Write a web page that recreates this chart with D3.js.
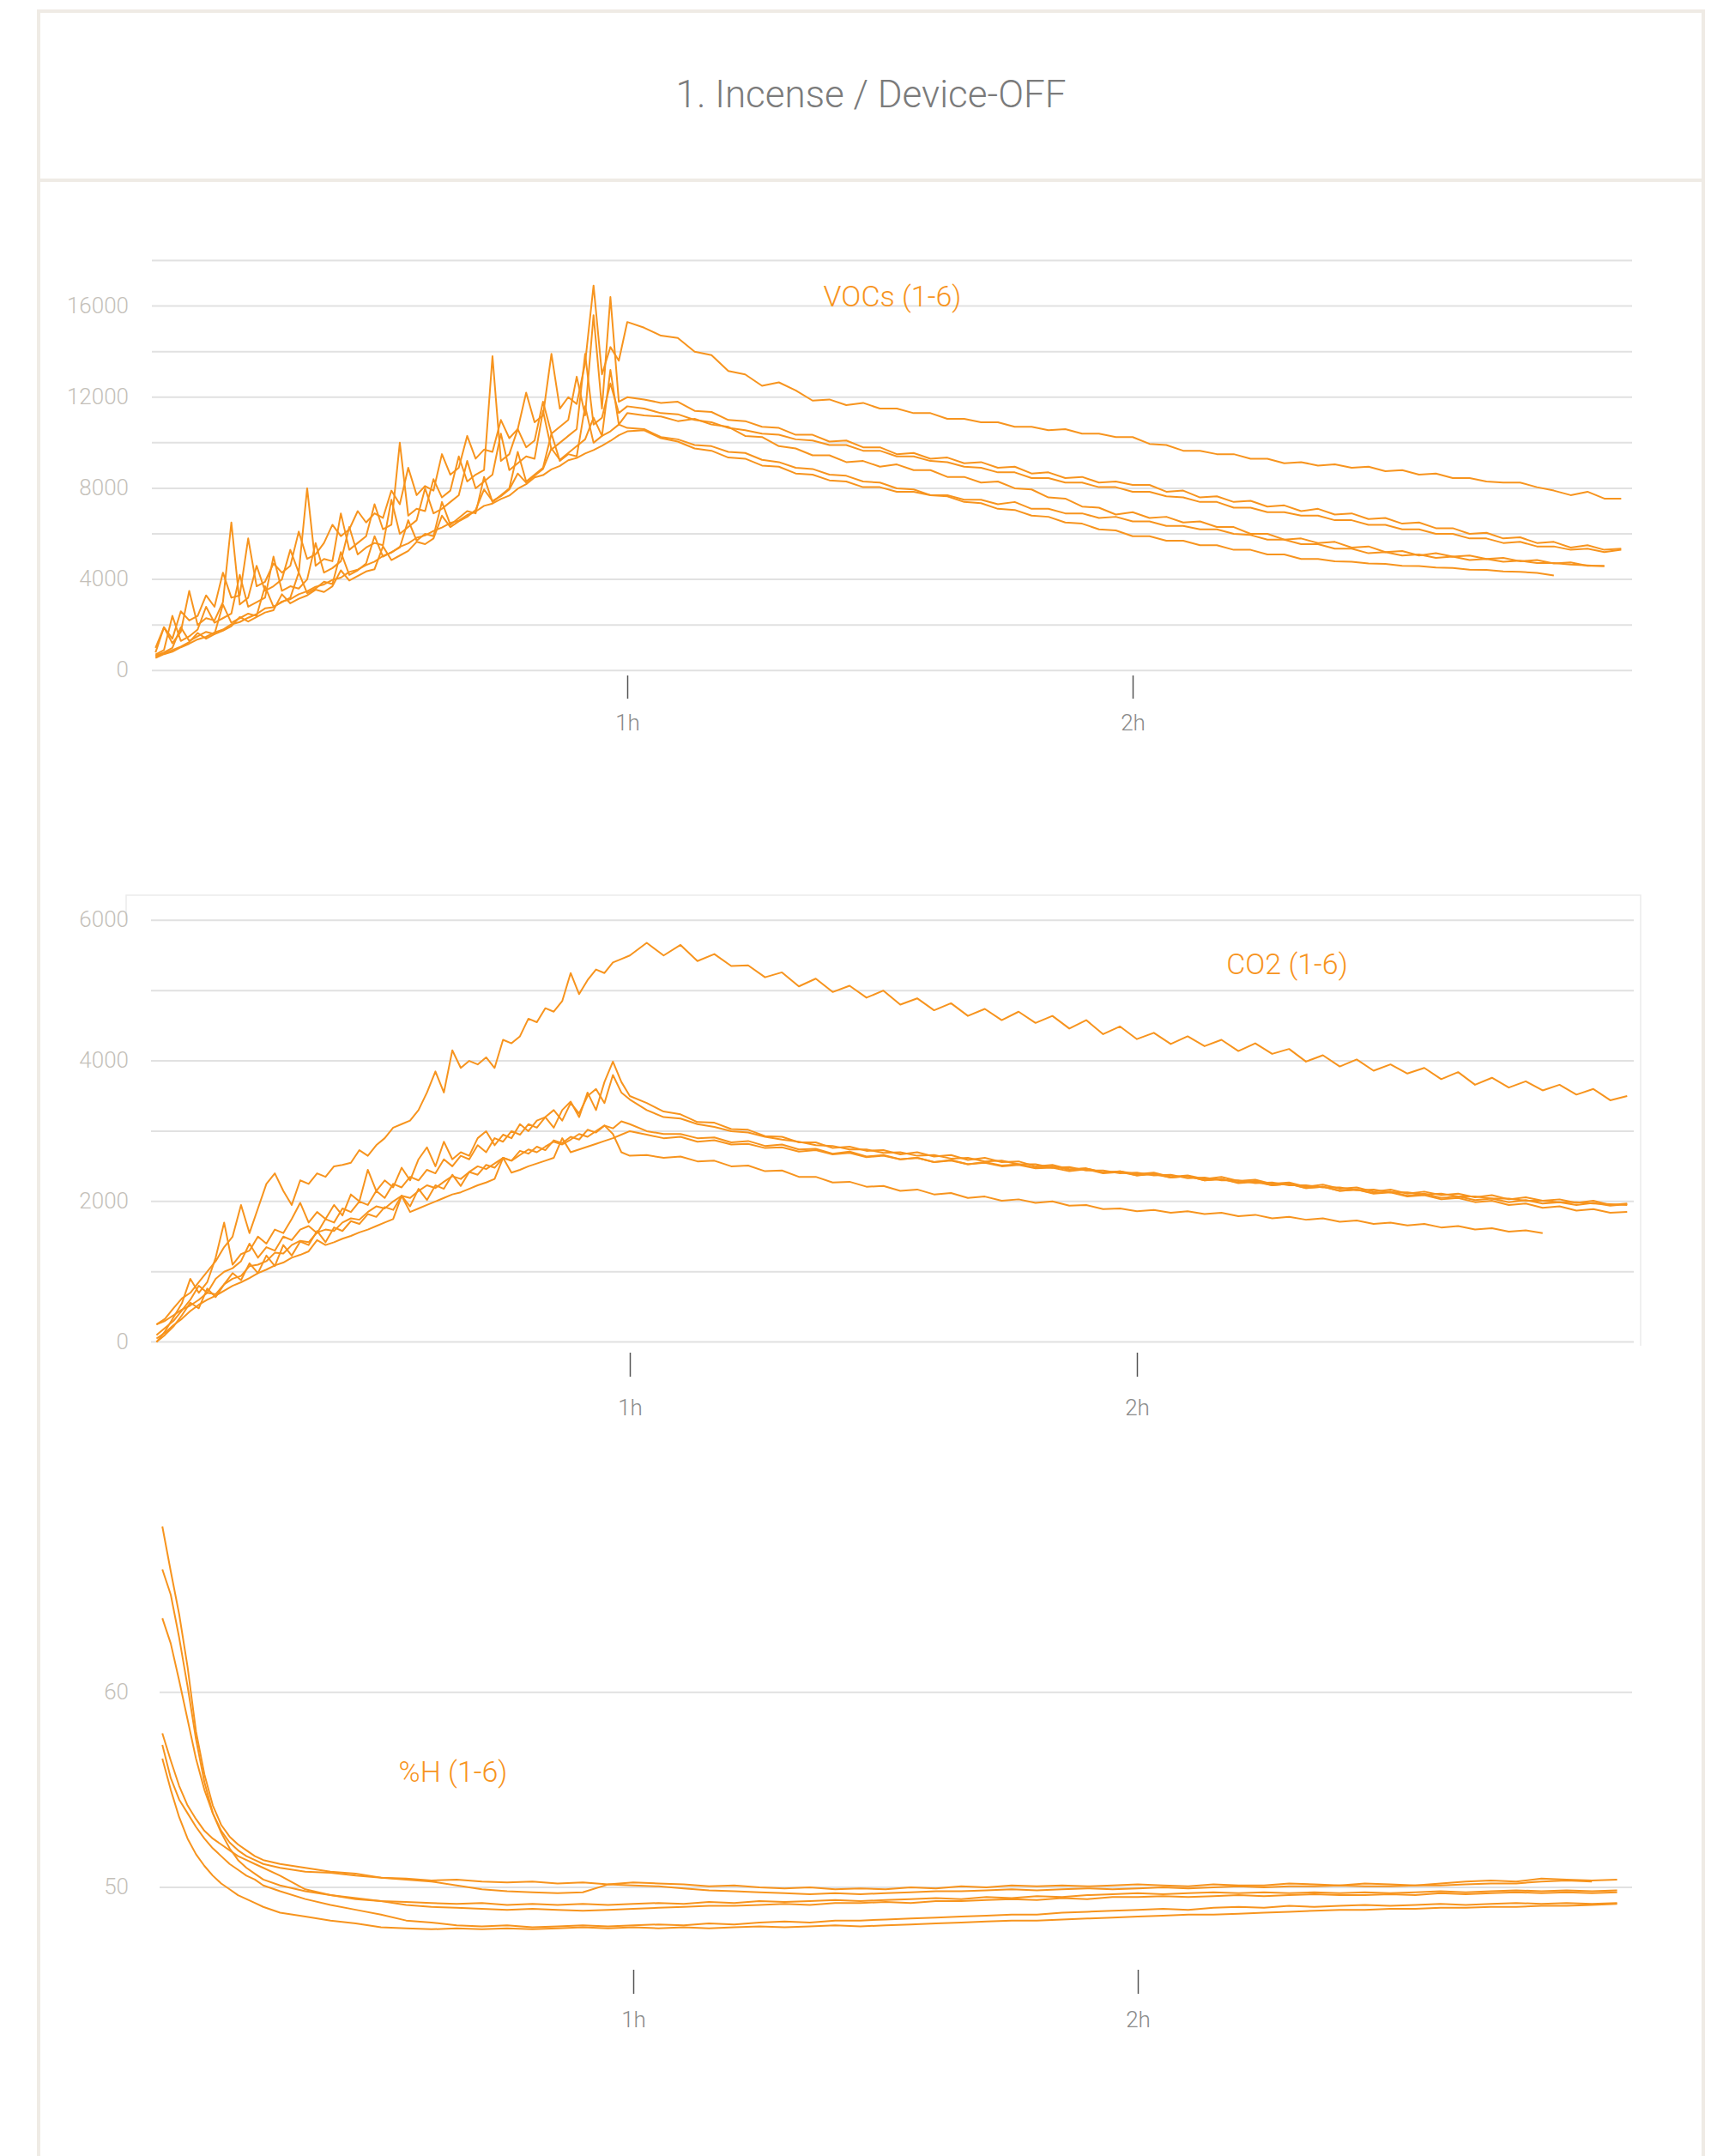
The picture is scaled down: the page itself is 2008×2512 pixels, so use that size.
<!DOCTYPE html>
<html><head><meta charset="utf-8">
<script src="https://cdn.jsdelivr.net/npm/d3@7"></script>
<style>
html,body{margin:0;padding:0;background:#fff;}
svg{display:block;}
text{font-family:Roboto,"Helvetica Neue",Arial,sans-serif;}
</style></head><body>
<svg id="chart" width="2008" height="2512"></svg>
<script>
const title = "1. Incense / Device-OFF";
const hourTicks = [60, 120];
const hourLabels = ["1h", "2h"];

// time grid in minutes (VOCs and CO2)
const timeGrid = [4,5,6,7,8,9,10,11,12,13,14,15,16,17,18,19,20,21,22,23,24,25,26,27,28,29,30,31,32,33,34,35,36,37,38,39,40,41,42,43,44,45,46,47,48,49,50,51,52,53,54,55,56,57,58,59,60,
62,64,66,68,70,72,74,76,78,80,82,84,86,88,90,92,94,96,98,100,102,104,106,108,110,112,114,116,118,120,122,124,126,128,130,132,134,136,138,140,142,144,146,148,150,152,154,156,158,160,162,164,166,168,170,172,174,176,178];

// ---------- VOCs ----------
const vocLabel = "VOCs (1-6)";
const vocTickValues = [0, 4000, 8000, 12000, 16000];
const vocGridValues = [0, 2000, 4000, 6000, 8000, 10000, 12000, 14000, 16000, 18000];
const vocA = [1000,1900,1400,2600,2200,2400,3300,2800,4300,3200,3300,5800,3700,3900,4700,4300,4600,6100,4900,5100,5600,6400,5900,6200,7000,6500,6900,6700,7900,7300,8900,7700,8100,7900,9500,8600,8900,10300,9300,9700,9600,11000,10200,10600,12200,10900,11200,13900,11500,12000,11700,13500,16900,13000,14200,13600,15300,
15050,14700,14600,14000,13850,13150,13000,12500,12650,12300,11850,11900,11650,11750,11500,11500,11300,11300,11050,11050,10900,10900,10700,10700,10550,10600,10400,10400,10250,10250,9950,9900,9650,9650,9500,9500,9300,9300,9100,9150,9000,9050,8900,8950,8750,8800,8600,8650,8450,8450,8300,8250,8250,8050,7900,7700,7850,7550,7550];
const vocB = [800,1900,1200,1700,3500,2000,2300,2200,3000,6500,2900,3200,4600,3500,3700,4000,5300,4300,8000,4600,4900,4800,6900,5300,5600,5900,7300,6200,6400,10000,6800,7100,7000,8400,7600,7900,9400,8300,8600,8800,13800,9200,9500,10600,9800,10100,11800,10400,10700,11000,12900,11200,15600,11500,16400,11800,12000,
11900,11750,11800,11400,11350,11000,10950,10700,10650,10350,10350,10050,10100,9800,9800,9500,9550,9300,9350,9100,9150,8900,8950,8650,8700,8450,8500,8250,8300,8150,8150,7850,7900,7600,7650,7400,7450,7200,7250,7000,7100,6850,6900,6650,6700,6450,6500,6250,6250,6000,6050,5800,5850,5600,5650,5400,5500,5300,5350];
const vocC = [700,900,2400,1300,1500,1800,2800,2100,2300,2500,4200,2800,3000,3200,5000,3500,3700,3600,4000,5600,4300,4500,4800,6300,5100,5400,5600,5500,7500,6000,6300,6600,8000,6900,7100,7400,7700,9200,8000,8300,8600,10400,8800,9100,9400,9300,11400,9700,10000,10300,10600,13900,10800,11100,12600,11300,11600,
11500,11300,11250,11000,10900,10650,10550,10400,10350,10150,10100,9900,9900,9650,9650,9400,9400,9200,9150,8950,8900,8700,8700,8450,8450,8250,8250,8050,8050,7850,7850,7650,7600,7400,7400,7150,7150,6950,6950,6800,6800,6600,6600,6400,6400,6200,6200,6000,6000,5800,5800,5600,5650,5450,5450,5300,5350,5200,5300];
const vocD = [650,800,1000,1900,1300,1500,1700,1600,2900,2100,2300,2500,2400,3700,2800,3000,3200,4300,3400,3600,3900,3800,5200,4200,4400,4700,5900,5000,5200,5400,6600,5700,6000,5900,7400,6400,6700,7000,6900,8500,7400,7700,8000,9600,8300,8600,8900,10400,9200,9500,9400,11600,10000,10300,13200,10800,11300,
11200,11150,10950,11050,10800,10700,10300,10250,9850,9750,9450,9450,9150,9200,8950,9050,8800,8800,8500,8500,8250,8300,8000,7950,7600,7550,7200,7150,6850,6950,6700,6750,6500,6550,6300,6300,6000,6000,5750,5800,5600,5650,5400,5450,5200,5250,5050,5150,5000,5050,4900,4950,4800,4850,4700,4750,4600,4600];
const vocE = [600,750,900,1050,1250,1650,1400,1600,1750,1950,2350,2150,2350,2550,2650,3350,2950,3150,3300,3550,3450,3700,4400,3950,4150,4350,4450,5450,4850,5050,5250,5650,5550,5800,6800,6300,6550,6750,7050,7950,7450,7650,7950,8650,8250,8550,8850,9750,9250,9550,9850,10150,11100,10300,10500,10800,10650,
10600,10250,10150,9900,9850,9600,9550,9250,9150,8900,8850,8600,8550,8300,8250,8000,7950,7700,7700,7500,7500,7300,7400,7100,7100,6900,6900,6700,6750,6550,6550,6350,6350,6200,6200,6000,5950,5750,5750,5550,5550,5350,5350,5150,5200,5050,5100,4950,5000,4850,4900,4780,4820,4720,4720,4650,4620,4580];
const vocF = [550,720,830,1020,1180,1370,1480,1670,1800,2030,2130,2320,2480,2730,2780,3030,3130,3350,3480,3680,3780,3980,4080,4330,4430,4630,4780,5030,5180,5430,5580,5830,5930,6130,6280,6480,6580,6830,6980,7230,7330,7530,7680,7980,8180,8480,8580,8830,8980,9230,9330,9530,9680,9870,10080,10330,10500,
10550,10200,10050,9750,9650,9350,9300,9000,8950,8650,8600,8350,8300,8050,8050,7850,7850,7700,7650,7400,7350,7100,7050,6800,6750,6500,6450,6200,6150,5900,5900,5700,5700,5500,5500,5300,5300,5100,5100,4900,4900,4800,4780,4700,4680,4600,4590,4520,4500,4430,4420,4350,4330,4290,4170];

// ---------- CO2 ----------
const co2Label = "CO2 (1-6)";
const co2TickValues = [0, 2000, 4000, 6000];
const co2GridValues = [0, 1000, 2000, 3000, 4000, 5000, 6000];
const co2A = [250,330,480,620,700,850,1000,1150,1350,1500,1950,1550,1900,2250,2400,2150,1950,2300,2250,2400,2350,2500,2520,2550,2730,2650,2800,2900,3050,3100,3150,3300,3550,3850,3550,4150,3900,4000,3950,4050,3900,4300,4250,4350,4600,4550,4750,4700,4850,5250,4950,5150,5300,5250,5400,5450,5500,5680,
5500,5650,5420,5520,5350,5360,5190,5260,5060,5170,4980,5070,4900,5000,4800,4890,4720,4820,4640,4740,4580,4700,4540,4640,4460,4580,4380,4490,4310,4400,4240,4350,4210,4300,4140,4250,4100,4170,3990,4080,3920,4020,3860,3950,3820,3900,3740,3840,3660,3760,3620,3710,3580,3660,3520,3600,3440,3500,3380];
const co2B = [0,150,350,550,900,700,850,1200,1700,1100,1250,1300,1500,1400,1600,1550,1750,1980,1700,1850,1750,1950,1800,2100,2000,2450,2150,2300,2200,2480,2300,2600,2770,2500,2850,2600,2700,2650,2900,3000,2800,2950,2900,3100,3000,3150,3200,3050,3300,3420,3200,3550,3300,3700,3990,3700,3500,
3400,3280,3240,3130,3120,3030,3020,2930,2920,2840,2840,2760,2780,2720,2730,2670,2700,2640,2660,2590,2620,2560,2570,2500,2520,2460,2470,2410,2430,2390,2410,2350,2370,2320,2350,2290,2310,2250,2270,2210,2240,2180,2200,2140,2170,2110,2140,2090,2110,2060,2090,2030,2060,2010,2030,1980,2010,1950,1970];
const co2C = [100,200,300,450,600,800,700,900,1000,1050,1150,1400,1200,1350,1300,1500,1450,1600,1650,1550,1750,1700,1900,1850,2000,1950,2150,2050,2250,2200,2350,2300,2450,2400,2600,2500,2650,2600,2800,2700,2900,2850,3000,2950,3100,3050,3200,3300,3150,3400,3250,3500,3600,3400,3800,3550,3450,
3300,3200,3180,3100,3060,3000,2980,2920,2880,2850,2800,2790,2740,2740,2690,2700,2650,2660,2610,2620,2570,2580,2530,2530,2480,2490,2440,2440,2400,2410,2370,2380,2330,2340,2300,2300,2260,2270,2230,2230,2200,2200,2160,2170,2130,2130,2100,2110,2070,2070,2040,2040,2010,2010,1990,1990,1970,1960,1950];
const co2D = [250,300,380,460,520,600,700,680,820,900,940,1080,1100,1150,1270,1260,1380,1440,1420,1560,1600,1580,1700,1760,1740,1850,1930,1900,2000,2080,2050,2150,2230,2190,2280,2360,2320,2420,2500,2460,2540,2620,2580,2660,2740,2700,2780,2850,2810,2880,2960,2920,3000,3080,3040,3140,3100,
3000,2960,2960,2900,2910,2840,2860,2790,2810,2740,2750,2680,2710,2640,2660,2600,2620,2560,2590,2530,2560,2510,2530,2480,2500,2450,2470,2410,2430,2370,2400,2340,2360,2300,2320,2260,2280,2230,2250,2190,2210,2150,2170,2110,2130,2070,2090,2030,2050,1990,2010,1950,1970,1910,1930,1870,1890,1840,1850];
const co2E = [50,130,240,330,440,530,600,660,730,800,850,910,980,1030,1090,1130,1200,1240,1290,1450,1380,1420,1470,1510,1560,1600,1650,1700,1750,2080,1850,1900,1950,2000,2050,2100,2130,2180,2230,2270,2320,2620,2410,2450,2500,2540,2580,2620,2900,2700,2740,2780,2820,2860,2900,2950,3000,
2950,2900,2920,2850,2870,2810,2820,2760,2770,2710,2730,2670,2690,2630,2650,2600,2620,2560,2580,2530,2550,2500,2520,2470,2480,2430,2460,2400,2420,2370,2390,2340,2360,2300,2320,2270,2290,2230,2250,2190,2210,2150,2170,2120,2140,2080,2110,2050,2070,2020,2040,1990,2020,1970,1990,1950,1980,1940,1960];
const co2F = [0,100,220,380,560,480,760,640,820,980,880,1120,980,1230,1080,1380,1230,1430,1380,1580,1420,1630,1580,1720,1680,1820,1780,1920,1880,2080,1930,2180,2020,2230,2180,2380,2220,2420,2380,2520,2480,2620,2580,2720,2680,2780,2730,2870,2830,2920,2880,3020,2980,3080,2960,2700,2650,
2660,2620,2640,2570,2580,2500,2510,2430,2440,2350,2350,2270,2280,2210,2220,2150,2170,2100,2120,2050,2070,2010,2030,1980,2000,1940,1950,1890,1900,1860,1880,1840,1860,1820,1840,1790,1810,1760,1780,1740,1760,1710,1730,1680,1700,1660,1680,1630,1650,1600,1620,1570,1590,1550];

// ---------- Humidity ----------
const humLabel = "%H (1-6)";
const humTickValues = [50, 60];
const humGridValues = [50, 60];
const humTime = [4,5,6,7,8,9,10,11,12,13,14,15,16,18,21,24,27,30,33,36,39,42,45,48,51,54,57,60,63,66,69,72,75,78,81,84,87,90,93,96,99,102,105,108,111,114,117,120,123,126,129,132,135,138,141,144,147,150,153,156,159,162,165,168,171,174,177];
const hum1 = [68.5,66.2,64.0,61.3,58.0,55.8,54.2,53.2,52.6,52.2,51.9,51.6,51.4,
51.2,51.0,50.8,50.7,50.5,50.45,50.35,50.4,50.3,50.25,50.3,50.2,50.25,50.15,50.25,50.2,50.15,50.05,50.1,50.0,49.95,50.0,49.9,49.95,49.9,50.0,49.95,50.05,50.0,50.1,50.05,50.1,50.05,50.1,50.15,50.1,50.05,50.15,50.1,50.1,50.2,50.15,50.1,50.2,50.15,50.1,50.2,50.3,50.35,50.3,50.45,50.4,50.35,50.4];
const hum2 = [66.3,65.0,62.8,60.3,57.6,55.4,53.8,52.8,52.0,51.4,51.0,50.7,50.4,
50.1,49.8,49.6,49.4,49.3,49.25,49.2,49.15,49.2,49.1,49.15,49.1,49.15,49.1,49.15,49.2,49.15,49.25,49.2,49.3,49.25,49.3,49.35,49.3,49.35,49.4,49.45,49.4,49.5,49.45,49.55,49.5,49.6,49.65,49.7,49.65,49.7,49.75,49.7,49.75,49.7,49.75,49.7,49.75,49.7,49.75,49.8,49.75,49.8,49.85,49.8,49.85,49.8,49.85];
const hum3 = [63.8,62.5,60.6,58.6,56.6,55.0,53.8,52.9,52.3,51.9,51.6,51.4,51.2,
51.0,50.8,50.75,50.6,50.5,50.4,50.3,50.1,49.9,49.8,49.75,49.7,49.75,50.15,50.1,50.05,49.95,49.85,49.8,49.75,49.7,49.65,49.7,49.65,49.7,49.75,49.8,49.8,49.85,49.9,49.85,49.9,49.95,49.9,49.95,50.0,49.95,50.0,50.05,50.0,50.05,50.05,50.1,50.05,50.05,50.1,50.1,50.15,50.2,50.2,50.3,50.35,50.3];
const hum4 = [57.9,56.5,55.2,54.2,53.5,52.9,52.5,52.2,51.9,51.6,51.4,51.2,51.0,
50.6,49.9,49.6,49.45,49.3,49.1,49.0,48.95,48.9,48.85,48.9,48.85,48.8,48.85,48.9,48.95,49.0,49.05,49.05,49.1,49.15,49.1,49.2,49.2,49.25,49.2,49.3,49.3,49.35,49.4,49.35,49.45,49.4,49.5,49.5,49.55,49.5,49.55,49.6,49.55,49.6,49.65,49.6,49.6,49.65,49.6,49.7,49.65,49.7,49.75,49.7,49.75,49.7,49.75];
const hum5 = [57.3,55.6,54.5,53.8,53.1,52.5,52.0,51.6,51.2,50.9,50.6,50.4,50.1,
49.8,49.4,49.1,48.85,48.6,48.3,48.2,48.05,48.0,48.05,47.95,48.0,48.05,48.0,48.05,48.1,48.05,48.15,48.1,48.2,48.25,48.2,48.3,48.3,48.35,48.4,48.45,48.5,48.55,48.6,48.6,48.7,48.75,48.8,48.85,48.9,48.85,48.95,49.0,48.95,49.05,49.0,49.05,49.1,49.05,49.1,49.15,49.1,49.15,49.2,49.15,49.2,49.15,49.2];
const hum6 = [56.6,55.0,53.6,52.5,51.7,51.1,50.6,50.2,49.9,49.6,49.4,49.2,49.0,
48.7,48.5,48.3,48.15,47.95,47.9,47.85,47.9,47.85,47.9,47.85,47.9,47.95,47.9,47.95,47.9,47.95,47.9,47.95,48.0,47.95,48.0,48.05,48.0,48.05,48.1,48.15,48.2,48.25,48.3,48.3,48.35,48.4,48.45,48.5,48.55,48.6,48.6,48.65,48.7,48.75,48.8,48.85,48.85,48.9,48.9,48.95,48.95,49.0,49.0,49.05,49.05,49.1,49.15];

// ---------- drawing ----------
const ORANGE = "#f7941e";
const svg = d3.select("#chart");

svg.append("rect").attr("x", 45).attr("y", 13).attr("width", 1940).attr("height", 2560)
  .attr("fill", "none").attr("stroke", "#efebe5").attr("stroke-width", 4);
svg.append("line").attr("x1", 45).attr("x2", 1985).attr("y1", 210).attr("y2", 210)
  .attr("stroke", "#efebe5").attr("stroke-width", 4);
svg.append("text").attr("x", 1015).attr("y", 125).attr("text-anchor", "middle")
  .attr("font-size", 44).attr("font-weight", 300).attr("fill", "#7b7b7b").text(title);

const charts = [
  { label: vocLabel, labelX: 1040, labelY: 345, time: timeGrid,
    series: [vocA, vocB, vocC, vocD, vocE, vocF],
    yDomain: [0, 18000], yRange: [781.3, 303.5], xRange: [142, 1909],
    grid: vocGridValues, ticks: vocTickValues, gridX: [177, 1902],
    axisY: 787, tickSize: 27, tickPad: 19 },
  { label: co2Label, labelX: 1500, labelY: 1123, time: timeGrid,
    series: [co2A, co2B, co2C, co2D, co2E, co2F],
    yDomain: [0, 6000], yRange: [1563.6, 1072.3], xRange: [143, 1916],
    grid: co2GridValues, ticks: co2TickValues, gridX: [176, 1904],
    axisY: 1576, tickSize: 28, tickPad: 27, box: true },
  { label: humLabel, labelX: 528, labelY: 2064, time: humTime,
    series: [hum1, hum2, hum3, hum4, hum5, hum6],
    yDomain: [50, 60], yRange: [2199, 1971.7], xRange: [150, 1914],
    grid: humGridValues, ticks: humTickValues, gridX: [186, 1902],
    axisY: 2295, tickSize: 28, tickPad: 21 }
];

charts.forEach(c => {
  const x = d3.scaleLinear().domain([0, 180]).range(c.xRange);
  const y = d3.scaleLinear().domain(c.yDomain).range(c.yRange);
  const g = svg.append("g");

  if (c.box) {
    g.append("path")
      .attr("d", `M147,${y(6000)} V1043 H1912 V1568`)
      .attr("fill", "none").attr("stroke", "#ebebeb").attr("stroke-width", 1.5);
  }

  g.selectAll(".grid").data(c.grid).join("line")
    .attr("x1", c.gridX[0]).attr("x2", c.gridX[1])
    .attr("y1", d => y(d)).attr("y2", d => y(d))
    .attr("stroke", "#e1e1e1").attr("stroke-width", 2);

  g.selectAll(".ylab").data(c.ticks).join("text")
    .attr("x", 150).attr("y", d => y(d) - 1).attr("dy", "0.35em")
    .attr("text-anchor", "end").attr("font-size", 26).attr("font-weight", 300)
    .attr("fill", "#c4bfb9").text(d => d);

  const line = d3.line().x((d, i) => x(c.time[i])).y(d => y(d));
  c.series.forEach(s => {
    g.append("path").datum(s).attr("d", line)
      .attr("fill", "none").attr("stroke", ORANGE).attr("stroke-width", 2)
      .attr("stroke-linejoin", "round");
  });

  const axis = d3.axisBottom(x).tickValues(hourTicks)
    .tickFormat((d, i) => hourLabels[i]).tickSize(c.tickSize).tickPadding(c.tickPad);
  const ag = g.append("g").attr("transform", `translate(0,${c.axisY})`).call(axis);
  ag.select(".domain").remove();
  ag.selectAll(".tick line").attr("stroke", "#555").attr("stroke-width", 1.5);
  ag.selectAll(".tick text").attr("font-size", 26).attr("font-weight", 300)
    .attr("fill", "#8a8a8a").attr("font-family", "Roboto, 'Helvetica Neue', Arial, sans-serif");

  g.append("text").attr("x", c.labelX).attr("y", c.labelY).attr("dy", "0.35em")
    .attr("text-anchor", "middle").attr("font-size", 34).attr("font-weight", 300)
    .attr("fill", ORANGE).text(c.label);
});
</script>
</body></html>
